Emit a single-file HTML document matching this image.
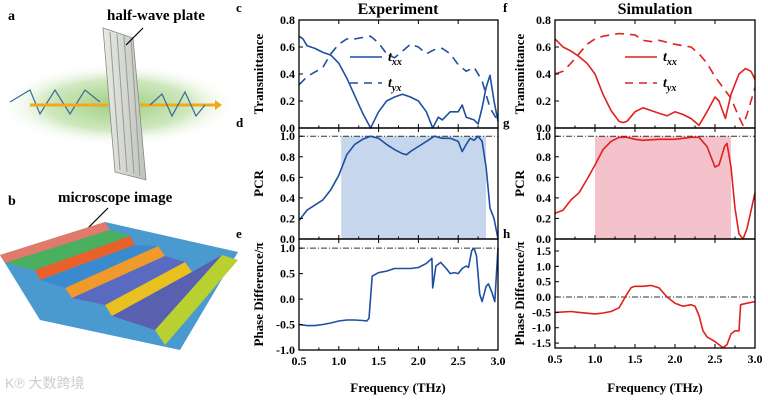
<!DOCTYPE html>
<html><head><meta charset="utf-8"><style>
body{margin:0;background:#fff}
svg{display:block;font-family:"Liberation Serif",serif}
.b{font-weight:bold}
</style></head><body>
<svg id="fig" width="768" height="400" viewBox="0 0 768 400">
<defs>
<radialGradient id="glow" cx="50%" cy="50%" r="50%"><stop offset="0" stop-color="#9fcf7f"/><stop offset="0.6" stop-color="#cfe8bf"/><stop offset="1" stop-color="#fff" stop-opacity="0"/></radialGradient>
<linearGradient id="plate" x1="0" x2="1"><stop offset="0" stop-color="#e8ebe4"/><stop offset="1" stop-color="#bfc4bb"/></linearGradient>
</defs>
<g>
<text x="8" y="20" class="b" font-size="14">a</text>
<ellipse cx="118" cy="105" rx="120" ry="42" fill="url(#glow)"/>
<polyline points="10,102 30,90 40,114 55,90 70,114 85,90 100,102" fill="none" stroke="#3a6a9a" stroke-width="1.2"/>
<line x1="30" y1="105" x2="108" y2="105" stroke="#f2a81c" stroke-width="3"/>
<polygon points="103,28 133,38 146,180 115,172" fill="url(#plate)" stroke="#888" stroke-width="0.8"/>
<g stroke="#999" stroke-width="1"><line x1="110" y1="32" x2="120" y2="170"/><line x1="117" y1="34" x2="127" y2="172"/><line x1="124" y1="36" x2="134" y2="174"/><line x1="131" y1="38" x2="140" y2="176"/></g>
<line x1="140" y1="105" x2="215" y2="105" stroke="#f2a81c" stroke-width="3"/>
<polygon points="215,100 222,105 215,110" fill="#f2a81c"/>
<polyline points="150,105 162,94 172,116 185,92 196,116 205,105" fill="none" stroke="#3a6a9a" stroke-width="1.2"/>
<line x1="126" y1="45" x2="143" y2="28" stroke="#000" stroke-width="1.2"/>
<text x="107" y="20" class="b" font-size="15">half-wave plate</text>
</g>
<g>
<text x="8" y="205" class="b" font-size="14">b</text>
<text x="58" y="202" class="b" font-size="15">microscope image</text>
<line x1="88" y1="228" x2="108" y2="208" stroke="#000" stroke-width="1.2"/>
<polygon points="0,255 105,222 238,252 180,350 40,320" fill="#4a9ad0"/>
<polygon points="0,255 105,222 110,230 5,263" fill="#e07a6a"/>
<polygon points="35,270 130,236 135,245 40,280" fill="#e8602a"/>
<polygon points="65,288 158,246 165,256 72,298" fill="#ef9a2a"/>
<polygon points="105,305 185,262 192,272 112,316" fill="#e8c020"/>
<polygon points="155,330 222,255 238,260 165,345" fill="#b8d030"/>
<polygon points="5,263 110,230 130,236 35,270" fill="#4ab060"/>
<polygon points="40,280 135,245 158,246 65,288" fill="#3a8ad0"/>
<polygon points="72,298 165,256 185,262 105,305" fill="#5a6ac0"/>
<polygon points="112,316 192,272 222,255 155,330" fill="#5a60b0"/>
<text x="5" y="388" font-family="'Liberation Sans','Noto Sans CJK SC',sans-serif" font-size="14" fill="#ccc">K℗ 大数跨境</text>
</g>
<g id="charts"></g>
</svg>
<script>
// ---- data ----
const expTxxF=[0.5,0.55,0.6,0.7,0.8,0.9,1.0,1.1,1.2,1.3,1.4,1.5,1.6,1.7,1.8,1.9,2.0,2.1,2.18,2.25,2.3,2.4,2.5,2.55,2.6,2.7,2.75,2.8,2.85,2.9,2.95,3.0];
const expTxxV=[0.68,0.66,0.61,0.59,0.56,0.54,0.48,0.37,0.24,0.11,0.0,0.12,0.2,0.23,0.25,0.23,0.2,0.12,0.0,0.08,0.06,0.12,0.12,0.17,0.08,0.06,0.03,0.15,0.3,0.39,0.2,0.05];
const expTyxF=[0.5,0.6,0.8,0.9,1.0,1.1,1.2,1.3,1.4,1.5,1.6,1.7,1.8,1.9,2.0,2.1,2.2,2.3,2.4,2.5,2.6,2.7,2.8,2.9,3.0];
const expTyxV=[0.32,0.38,0.45,0.55,0.62,0.66,0.66,0.67,0.68,0.63,0.55,0.52,0.57,0.62,0.6,0.55,0.58,0.59,0.55,0.47,0.42,0.45,0.35,0.15,0.05];
const expPcrF=[0.5,0.6,0.7,0.8,0.9,1.0,1.1,1.2,1.3,1.4,1.5,1.6,1.7,1.8,1.85,1.9,2.0,2.1,2.2,2.3,2.4,2.5,2.55,2.6,2.65,2.7,2.75,2.8,2.85,2.9,2.95,3.0];
const expPcrV=[0.18,0.28,0.33,0.38,0.48,0.62,0.82,0.92,0.97,1.0,0.98,0.92,0.87,0.83,0.82,0.85,0.9,0.95,1.0,0.98,0.98,0.95,0.85,0.92,0.98,0.96,1.0,0.95,0.7,0.3,0.2,0.0];
const expBand=[1.03,2.85];
const expPhF=[0.5,0.6,0.7,0.8,0.9,1.0,1.1,1.2,1.3,1.35,1.38,1.42,1.5,1.6,1.7,1.8,1.9,2.0,2.1,2.17,2.18,2.22,2.28,2.35,2.4,2.45,2.5,2.55,2.6,2.63,2.67,2.7,2.73,2.77,2.8,2.85,2.88,2.92,2.96,3.0];
const expPhV=[-0.5,-0.52,-0.52,-0.5,-0.47,-0.43,-0.41,-0.41,-0.42,-0.43,-0.38,0.45,0.52,0.55,0.6,0.6,0.6,0.62,0.7,0.8,0.22,0.65,0.72,0.6,0.5,0.52,0.5,0.6,0.65,0.62,0.95,1.0,0.85,0.1,-0.05,0.25,0.3,0.15,-0.05,1.0];
const simTxxF=[0.5,0.6,0.7,0.8,0.9,1.0,1.1,1.2,1.3,1.35,1.4,1.5,1.6,1.7,1.8,1.9,2.0,2.1,2.2,2.3,2.4,2.5,2.55,2.63,2.7,2.8,2.88,2.95,3.0];
const simTxxV=[0.66,0.6,0.57,0.53,0.48,0.4,0.25,0.13,0.05,0.04,0.05,0.12,0.15,0.13,0.11,0.09,0.12,0.1,0.07,0.02,0.12,0.23,0.2,0.07,0.25,0.4,0.44,0.42,0.36];
const simTyxF=[0.5,0.6,0.7,0.8,0.9,1.0,1.1,1.3,1.5,1.6,1.7,1.8,2.0,2.2,2.3,2.4,2.5,2.6,2.7,2.8,2.85,2.9,3.0];
const simTyxV=[0.4,0.42,0.48,0.55,0.62,0.66,0.68,0.7,0.69,0.65,0.64,0.65,0.62,0.6,0.55,0.48,0.38,0.3,0.22,0.08,0.02,0.1,0.3];
const simPcrF=[0.5,0.6,0.7,0.8,0.9,1.0,1.1,1.2,1.3,1.4,1.5,1.6,1.8,2.0,2.2,2.3,2.4,2.5,2.55,2.62,2.65,2.7,2.75,2.8,2.85,2.9,3.0];
const simPcrV=[0.25,0.28,0.38,0.45,0.58,0.72,0.87,0.95,0.99,0.99,0.97,0.96,0.97,0.97,0.99,0.99,0.9,0.7,0.72,0.9,0.93,0.7,0.3,0.05,0.0,0.1,0.45];
const simBand=[1.0,2.7];
const simPhF=[0.5,0.7,0.8,1.0,1.1,1.2,1.3,1.4,1.45,1.5,1.6,1.7,1.8,1.9,2.0,2.1,2.2,2.25,2.3,2.35,2.4,2.5,2.6,2.65,2.7,2.75,2.8,2.82,2.9,3.0];
const simPhV=[-0.5,-0.47,-0.5,-0.55,-0.52,-0.47,-0.35,0.1,0.3,0.35,0.35,0.38,0.3,0.0,-0.2,-0.3,-0.25,-0.3,-0.6,-1.1,-1.3,-1.45,-1.65,-1.55,-1.2,-1.1,-1.1,-0.25,-0.2,-0.15];
const xTicks=[0.5,1.0,1.5,2.0,2.5,3.0];
const tTicks=[0.0,0.2,0.4,0.6,0.8];
const pTicks=[0.0,0.2,0.4,0.6,0.8,1.0];
const expPhTicks=[-1.0,-0.5,0.0,0.5,1.0];
const simPhTicks=[-1.5,-1.0,-0.5,0.0,0.5,1.0,1.5];

const NS='http://www.w3.org/2000/svg';
const root=document.getElementById('charts');
function mk(tag,attrs,parent,text){const e=document.createElementNS(NS,tag);for(const k in attrs)e.setAttribute(k,attrs[k]);if(text!==undefined)e.textContent=text;(parent||root).appendChild(e);return e;}
function panel(o){
  const g=mk('g',{});
  
  
  const xs=f=>o.x0+(f-0.5)/2.5*(o.x1-o.x0);
  const ys=v=>o.y1-(v-o.ymin)/(o.ymax-o.ymin)*(o.y1-o.y0);
  if(o.band){const r=mk('rect',{x:xs(o.band[0]),y:ys(1.0),width:xs(o.band[1])-xs(o.band[0]),height:o.y1-ys(1.0),fill:o.bandColor},g);
    }
  if(o.ref!==undefined){const l=mk('line',{x1:o.x0,x2:o.x1,y1:ys(o.ref),y2:ys(o.ref),stroke:'#333','stroke-width':1,'stroke-dasharray':'6 2 1 2'},g);
    }
  o.series.forEach(s=>{
    const d=s.f.map((f,i)=>(i?'L':'M')+xs(f).toFixed(1)+','+ys(s.v[i]).toFixed(1)).join('');
    const p=mk('path',{d:d,fill:'none',stroke:o.color,'stroke-width':1.6,'stroke-linejoin':'round','stroke-dasharray':s.dash||'none'},g);
    
  });
  mk('rect',{x:o.x0,y:o.y0,width:o.x1-o.x0,height:o.y1-o.y0,fill:'none',stroke:'#000','stroke-width':1.3},g);
  o.yt.forEach(v=>{const y=ys(v);mk('line',{x1:o.x0,x2:o.x0+4,y1:y,y2:y,stroke:'#000'},g);
    const t=mk('text',{x:o.x0-4,y:y+4,'text-anchor':'end','font-size':12,'font-weight':'bold'},g,v.toFixed(1));
    });
  xTicks.forEach(f=>{const x=xs(f);mk('line',{x1:x,x2:x,y1:o.y1,y2:o.y1-4,stroke:'#000'},g);mk('line',{x1:x,x2:x,y1:o.y0,y2:o.y0+4,stroke:'#000'},g);
    const xm=xs(f+0.25);if(f<3){mk('line',{x1:xm,x2:xm,y1:o.y1,y2:o.y1-2.5,stroke:'#000'},g);}
    if(o.xlabels){const t=mk('text',{x:x,y:o.y1+15,'text-anchor':'middle','font-size':12,'font-weight':'bold'},g,f.toFixed(1));
      }});
  const cy=(o.y0+o.y1)/2;
  const yt=mk('text',{x:o.tx,y:cy,'text-anchor':'middle','font-size':13,'font-weight':'bold',transform:`rotate(-90 ${o.tx} ${cy})`},g,o.title);
  
  const lt=mk('text',{x:o.lx,y:o.y0+(o.letter==='c'||o.letter==='f'?-8:-1),'font-size':13,'font-weight':'bold'},g,o.letter);
  
}
const E={x0:299,x1:498,color:'#1f4fa0',tx:263,lx:236};
const S={x0:555,x1:755,color:'#e0201f',tx:524,lx:503};
panel({...E,name:'exp-transmittance',letter:'c',y0:20,y1:128,ymin:0,ymax:0.8,yt:tTicks,title:'Transmittance',
  series:[{f:expTxxF,v:expTxxV,name:'exp-txx-line'},{f:expTyxF,v:expTyxV,name:'exp-tyx-line',dash:'9 6'}]});
panel({...E,name:'exp-pcr',letter:'d',y0:128,y1:239,ymin:0,ymax:1.08,yt:pTicks,title:'PCR',ref:1.0,band:expBand,bandColor:'#c6d6ec',
  series:[{f:expPcrF,v:expPcrV,name:'exp-pcr-line'}]});
panel({...E,name:'exp-phase',letter:'e',y0:239,y1:350,ymin:-1.0,ymax:1.18,yt:expPhTicks,title:'Phase Difference/π',ref:1.0,xlabels:true,
  series:[{f:expPhF,v:expPhV,name:'exp-phase-line'}]});
panel({...S,name:'sim-transmittance',letter:'f',y0:20,y1:128,ymin:0,ymax:0.8,yt:tTicks,title:'Transmittance',
  series:[{f:simTxxF,v:simTxxV,name:'sim-txx-line'},{f:simTyxF,v:simTyxV,name:'sim-tyx-line',dash:'9 6'}]});
panel({...S,name:'sim-pcr',letter:'g',y0:128,y1:239,ymin:0,ymax:1.08,yt:pTicks,title:'PCR',ref:1.0,band:simBand,bandColor:'#f4c2ca',
  series:[{f:simPcrF,v:simPcrV,name:'sim-pcr-line'}]});
panel({...S,name:'sim-phase',letter:'h',y0:239,y1:348,ymin:-1.66,ymax:1.89,yt:simPhTicks,title:'Phase Difference/π',ref:0.0,xlabels:true,
  series:[{f:simPhF,v:simPhV,name:'sim-phase-line'}]});
// legends & titles
function legend(x,color,nm){
  [['xx','none',57],['yx','8 6',83]].forEach(([sub,dash,y])=>{
    const l=mk('line',{x1:x,x2:x+32,y1:y,y2:y,stroke:color,'stroke-width':1.6,'stroke-dasharray':dash});
    
    const t=mk('text',{x:x+38,y:y+4,'font-size':14,'font-style':'italic','font-weight':'bold'});
    
    mk('tspan',{},t,'t');mk('tspan',{dy:4,'font-size':10},t,sub);
  });
}
legend(350,'#1f4fa0','exp');legend(625,'#e0201f','sim');
[[398,'Experiment','exp-title'],[655,'Simulation','sim-title']].forEach(([x,s,n])=>{
  const t=mk('text',{x:x,y:14,'text-anchor':'middle','font-size':16,'font-weight':'bold'},root,s);
  });
[[398,'exp-x-axis-title'],[655,'sim-x-axis-title']].forEach(([x,n])=>{
  const t=mk('text',{x:x,y:392,'text-anchor':'middle','font-size':13,'font-weight':'bold'},root,'Frequency (THz)');
  });
</script>
</body></html>
